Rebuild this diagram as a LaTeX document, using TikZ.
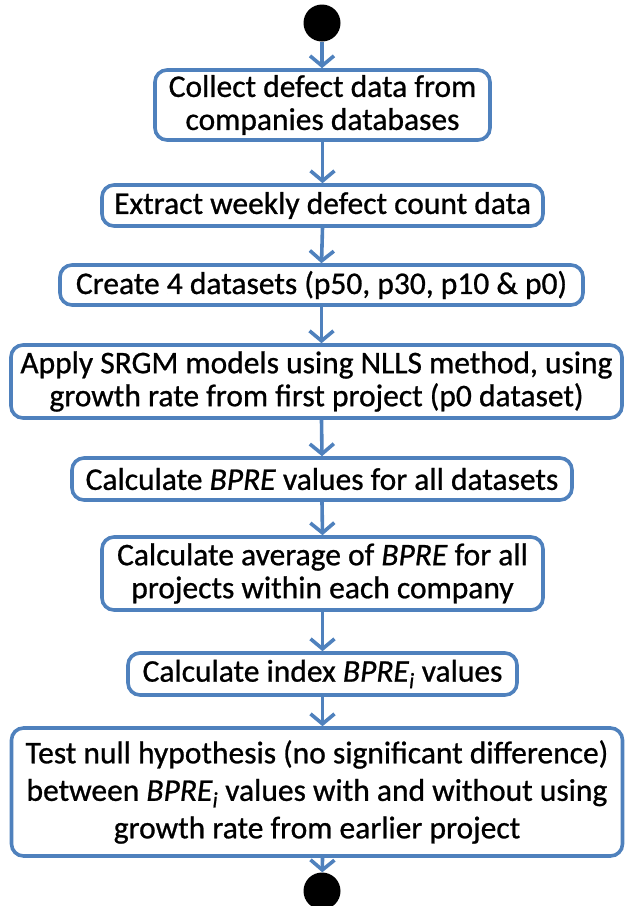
\documentclass[tikz,border=0pt]{standalone}
\usepackage{fontspec}
\setmainfont{Carlito}
\newfontfamily\boxfont{Carlito}[UprightFeatures={FakeBold=0.8}, ItalicFeatures={FakeBold=0.8}]
\usetikzlibrary{arrows.meta}
\definecolor{flowblue}{HTML}{4F81BD}
\tikzset{
  stepbox/.style={draw=flowblue, line width=3.6pt, rounded corners=12pt, fill=white,
    align=center, inner sep=0pt, font=\boxfont\fontsize{31.5}{33}\selectfont},
  widelines/.style={font=\boxfont\fontsize{31.5}{37.5}\selectfont},
  flowarrow/.style={draw=flowblue, line width=3.6pt,
    -{Straight Barb[length=10pt,width=24pt,line width=3.6pt]}},
  terminal/.style={circle, fill=black, inner sep=0pt, minimum size=37pt},
}
\newcommand{\bpre}{\textit{BPRE}}
\newcommand{\bprei}{\textit{BPRE}\textsubscript{\textit{i}}}
\begin{document}
\begin{tikzpicture}[x=1pt, y=-1pt]
  \useasboundingbox (0,0) rectangle (625,906);
  \node[terminal] (start) at (322,23) {};
  \node[stepbox, minimum width=335pt, minimum height=70pt] (b1) at (322.5,105)
    {Collect defect data from\\companies databases};
  \node[stepbox, minimum width=441pt, minimum height=41pt] (b2) at (322.5,205.5)
    {Extract weekly defect count data};
  \node[stepbox, minimum width=523pt, minimum height=40pt] (b3) at (321.5,285)
    {Create 4 datasets (p50, p30, p10 \& p0)};
  \node[stepbox, minimum width=611pt, minimum height=73pt] (b4) at (316.5,381.5)
    {Apply SRGM models using NLLS method, using\\growth rate from first project (p0 dataset)};
  \node[stepbox, minimum width=500pt, minimum height=42pt] (b5) at (322,479)
    {Calculate \bpre{} values for all datasets};
  \node[stepbox, minimum width=441pt, minimum height=73pt] (b6) at (322.5,573.5)
    {Calculate average of \bpre{} for all\\projects within each company};
  \node[stepbox, minimum width=389pt, minimum height=42pt] (b7) at (322.5,674)
    {Calculate index \bprei{} values};
  \node[stepbox, widelines, minimum width=611pt, minimum height=128pt] (b8) at (317,792)
    {Test null hypothesis (no significant difference)\\between \bprei{} values with and without using\\growth rate from earlier project};
  \node[terminal] (stop) at (322,891) {};

  \draw[flowarrow] (start) -- (start |- b1.north);
  \draw[flowarrow] (b1.south) -- (b2.north);
  \draw[flowarrow] (b2.south) -- (b3.north);
  \draw[flowarrow] (b3.south) -- (b3.south |- b4.north);
  \draw[flowarrow] (b3.south |- b4.south) -- (b5.north);
  \draw[flowarrow] (b5.south) -- (b6.north);
  \draw[flowarrow] (b6.south) -- (b7.north);
  \draw[flowarrow] (b7.south) -- (b7.south |- b8.north);
  \draw[flowarrow] (b7.south |- b8.south) -- (stop);
\end{tikzpicture}
\end{document}
